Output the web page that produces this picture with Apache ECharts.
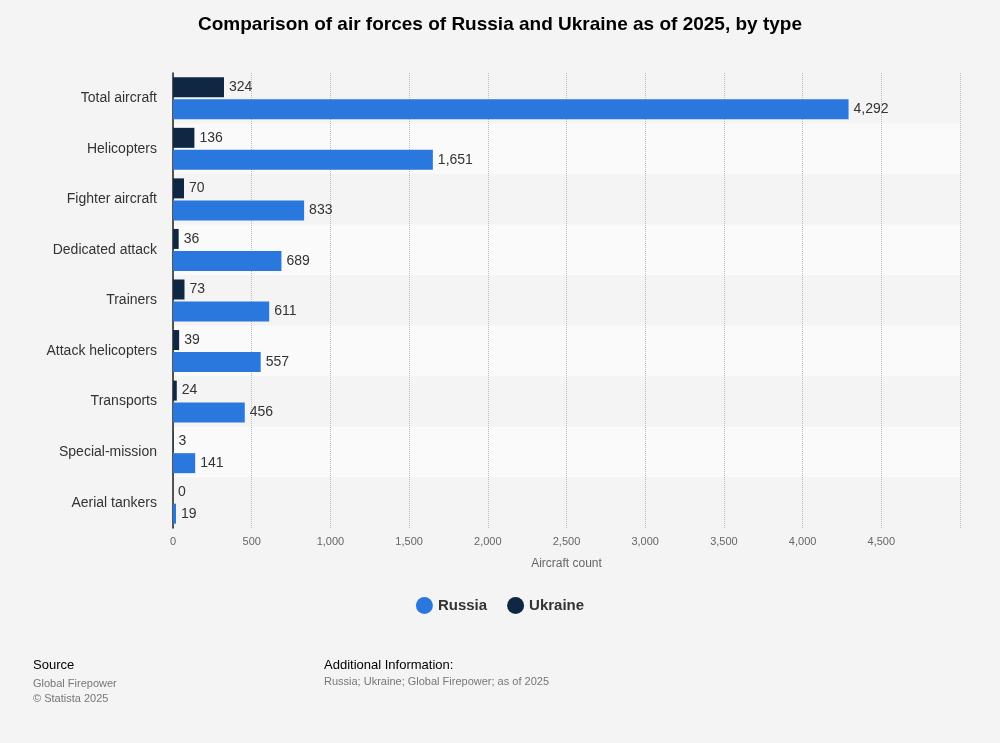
<!DOCTYPE html>
<html><head><meta charset="utf-8">
<script src="https://cdn.jsdelivr.net/npm/echarts@6/dist/echarts.min.js"></script>
<style>html,body{margin:0;background:#f4f4f4}#c{width:1000px;height:743px}</style>
</head><body><div id="c"></div>
<script>
const categories=["Total aircraft","Helicopters","Fighter aircraft","Dedicated attack","Trainers","Attack helicopters","Transports","Special-mission","Aerial tankers"];
const russia=[4292,1651,833,689,611,557,456,141,19];
const ukraine=[324,136,70,36,73,39,24,3,0];
const chart=echarts.init(document.getElementById('c'));
const lbl={show:true,position:'right',color:'#333',fontSize:14,fontFamily:'Arial, Liberation Sans',formatter:p=>p.value.toLocaleString('en-US'),distance:5};
chart.setOption({
 backgroundColor:'#f4f4f4',
 textStyle:{fontFamily:'Arial, Liberation Sans'},
 title:{text:'Comparison of air forces of Russia and Ukraine as of 2025, by type',left:'center',top:10,textStyle:{fontSize:19,fontWeight:'bold',color:'#000'}},
 grid:{left:173,right:40,top:73,bottom:215,containLabel:false},
 xAxis:{type:'value',min:0,max:5000,interval:500,name:'Aircraft count',nameLocation:'middle',nameGap:30,nameTextStyle:{color:'#666',fontSize:12},
  axisLabel:{color:'#666',fontSize:11,formatter:v=>v===5000?'':v.toLocaleString('en-US')},
  splitLine:{lineStyle:{type:'dotted',color:'#bbb'}},axisLine:{show:false},axisTick:{show:false}},
 yAxis:{type:'category',data:categories,inverse:true,axisLabel:{color:'#333',fontSize:14,margin:16},axisTick:{show:false},
  axisLine:{lineStyle:{color:'#222',width:1.5}},
  splitArea:{show:true,areaStyle:{color:['#f4f4f4','#fafafa']}}},
 legend:{data:['Russia','Ukraine'],bottom:124,left:'center',icon:'circle',itemWidth:17,itemHeight:17,itemGap:20,textStyle:{fontSize:15,fontWeight:'bold',color:'#333'}},
 series:[
  {name:'Ukraine',type:'bar',data:ukraine,barWidth:20,barGap:'10%',itemStyle:{color:'#0f2742'},label:lbl},
  {name:'Russia',type:'bar',data:russia,barWidth:20,itemStyle:{color:'#2a77dd'},label:lbl}
 ],
 graphic:[
  {type:'text',left:33,top:659,style:{text:'Source',fontSize:13,fill:'#000'}},
  {type:'text',left:33,top:676,style:{text:'Global Firepower\n© Statista 2025',fontSize:11,fill:'#777',lineHeight:15}},
  {type:'text',left:324,top:659,style:{text:'Additional Information:',fontSize:13,fill:'#000'}},
  {type:'text',left:324,top:676,style:{text:'Russia; Ukraine; Global Firepower; as of 2025',fontSize:11,fill:'#777'}}
 ]
});
</script></body></html>
